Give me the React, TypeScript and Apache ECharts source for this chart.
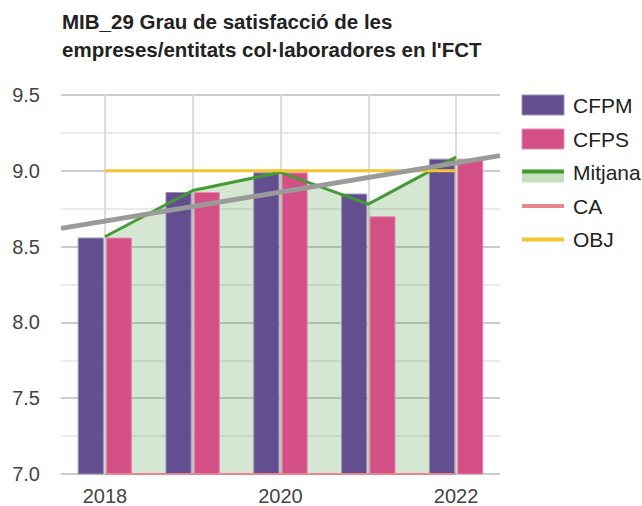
import React, { useEffect, useRef } from "react";
import * as echarts from "echarts";

const years = ["2018", "2019", "2020", "2021", "2022"];
const cfpm = [8.56, 8.86, 8.99, 8.85, 9.08];
const cfps = [8.56, 8.86, 8.99, 8.7, 9.08];
const mitjana = [8.565, 8.87, 8.99, 8.78, 9.09];
const ca = [7.0, 7.0, 7.0, 7.0, 7.0];
const obj = [9.0, 9.0, 9.0, 9.0, 9.0];
const trendX = [2017.5, 2022.5];
const trendY = [8.62, 9.1];
const legendNames = ["CFPM", "CFPS", "Mitjana", "CA", "OBJ"];

const PURPLE = "#634f8f";
const PINK = "#d44f86";
const GREEN = "#449a33";
const GREEN_FILL = "rgba(61,145,46,0.31)";
const CA_COL = "#e8868e";
const YELLOW = "#f2c531";
const GRAY = "#9a9a9a";
const FONT = "Liberation Sans, Arial, sans-serif";

export default function App() {
  const ref = useRef<HTMLDivElement>(null);
  useEffect(() => {
    if (!ref.current) return;
    const chart = echarts.init(ref.current, null, { renderer: "svg" });
    const lx = 522;
    const tx = 573;
    const rows = [105, 139, 172.5, 206, 239.5];
    const legendGraphics: any[] = [
      { type: "rect", shape: { x: lx, y: rows[0] - 10, width: 42, height: 20 }, style: { fill: PURPLE, stroke: "#9d91bb", lineWidth: 1 } },
      { type: "rect", shape: { x: lx, y: rows[1] - 10, width: 42, height: 20 }, style: { fill: PINK, stroke: "#e58fb3", lineWidth: 1 } },
      { type: "rect", shape: { x: lx, y: rows[2] - 3, width: 42, height: 13 }, style: { fill: "#c8dec0" } },
      { type: "line", shape: { x1: lx, y1: rows[2] - 1, x2: lx + 42, y2: rows[2] - 1 }, style: { stroke: GREEN, lineWidth: 4 } },
      { type: "line", shape: { x1: lx, y1: rows[3], x2: lx + 42, y2: rows[3] }, style: { stroke: CA_COL, lineWidth: 4 } },
      { type: "line", shape: { x1: lx, y1: rows[4], x2: lx + 42, y2: rows[4] }, style: { stroke: YELLOW, lineWidth: 4 } },
      ...legendNames.map((n, i) => ({
        type: "text",
        x: tx,
        y: rows[i],
        style: { text: n, fontSize: 21, fontFamily: FONT, fill: "#222", verticalAlign: "middle", align: "left" },
      })),
    ];
    chart.setOption({
      animation: false,
      title: {
        text: "MIB_29 Grau de satisfacció de les\nempreses/entitats col·laboradores en l'FCT",
        left: 57,
        top: 2,
        textStyle: { fontSize: 20.5, fontWeight: "bold", color: "#222", lineHeight: 28, fontFamily: FONT },
      },
      grid: { left: 61, right: 142, top: 95, bottom: 32, containLabel: false },
      xAxis: [
        {
          type: "category",
          data: years,
          boundaryGap: true,
          axisLine: { show: false },
          axisTick: { show: false },
          axisLabel: { interval: 1, fontSize: 20, color: "#444", fontFamily: FONT, margin: 12 },
          splitLine: { show: true, interval: 0, alignWithLabel: true, lineStyle: { color: "#dcdcdc", width: 2 } },
        },
        { type: "value", min: trendX[0], max: trendX[1], show: false },
      ],
      yAxis: {
        type: "value",
        min: 7,
        max: 9.5,
        interval: 0.5,
        axisLine: { show: false },
        axisTick: { show: false },
        axisLabel: { formatter: (v: number) => v.toFixed(1), fontSize: 20, color: "#444", fontFamily: FONT, margin: 21 },
        splitLine: { show: true, lineStyle: { color: "#cccccc", width: 2 } },
        minorTick: { show: false, splitNumber: 2 },
        minorSplitLine: { show: true, lineStyle: { color: "#ebebeb", width: 2 } },
      },
      series: [
        {
          name: "Mitjana",
          type: "line",
          data: mitjana,
          symbol: "none",
          lineStyle: { width: 0 },
          areaStyle: { color: GREEN_FILL, origin: "start" },
          z: 1,
          silent: true,
        },
        {
          name: "CFPM",
          type: "bar",
          data: cfpm,
          barGap: "8%",
          barCategoryGap: "38%",
          itemStyle: { color: PURPLE, borderColor: "#9d91bb", borderWidth: 1 },
          z: 2,
        },
        {
          name: "CFPS",
          type: "bar",
          data: cfps,
          itemStyle: { color: PINK, borderColor: "#e58fb3", borderWidth: 1 },
          z: 2,
        },
        {
          name: "Mitjana",
          type: "line",
          data: mitjana,
          symbol: "none",
          lineStyle: { color: GREEN, width: 3 },
          z: 3,
        },
        { name: "CA", type: "line", data: ca, symbol: "none", lineStyle: { color: CA_COL, width: 2 }, z: 3 },
        { name: "OBJ", type: "line", data: obj, symbol: "none", lineStyle: { color: YELLOW, width: 3 }, z: 3 },
        {
          name: "Tendència",
          type: "line",
          xAxisIndex: 1,
          data: trendX.map((x, i) => [x, trendY[i]]),
          symbol: "none",
          lineStyle: { color: GRAY, width: 5 },
          z: 4,
        },
      ],
      graphic: legendGraphics,
    });
    return () => chart.dispose();
  }, []);
  return <div ref={ref} style={{ width: 642, height: 506, position: "absolute", left: 0, top: 0 }} />;
}
